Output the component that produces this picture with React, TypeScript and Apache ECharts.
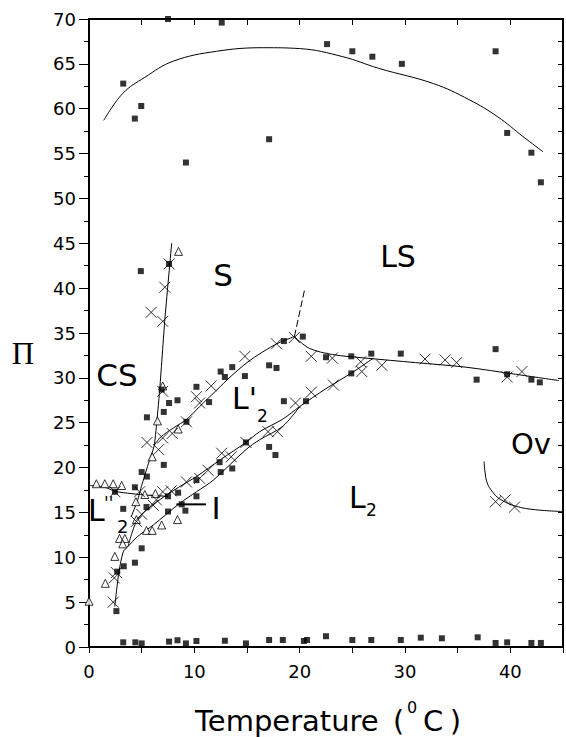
import React, { useEffect, useRef } from 'react';
import * as echarts from 'echarts';

// ---------- data (temperature °C, surface pressure Π) ----------
const xTickLabels = ['0', '10', '20', '30', '40'];

const squarePoints: number[][] = [
  [3.25, 62.8], [4.35, 58.9], [4.96, 60.3], [7.5, 70.0], [9.2, 54.0], [12.6, 69.6], [17.1, 56.6],
  [22.6, 67.2], [25.0, 66.4], [26.9, 65.8], [29.7, 65.0], [38.6, 66.4], [39.7, 57.3], [42.0, 55.1], [42.9, 51.8],
  [4.92, 41.9], [7.6, 42.7], [6.9, 28.7], [7.6, 27.2], [8.4, 27.5], [5.5, 25.6], [7.1, 26.2], [7.1, 20.3],
  [5.0, 19.5], [5.5, 19.0], [9.25, 25.1], [10.2, 29.0], [11.4, 27.3], [12.5, 30.7], [12.9, 30.1], [13.6, 31.2],
  [14.8, 30.2], [17.1, 31.4], [17.8, 31.1], [18.5, 34.1], [20.3, 34.6], [22.5, 32.3], [24.9, 32.4], [26.8, 32.7],
  [29.6, 32.7], [38.6, 33.2], [36.8, 29.8], [39.7, 30.4], [42.0, 29.8], [42.8, 29.5], [24.9, 30.5], [20.6, 27.4],
  [18.5, 27.4], [17.1, 22.3], [17.7, 21.4], [14.9, 22.8],
  [4.36, 17.8], [2.46, 17.3], [3.25, 15.4], [5.46, 15.6], [7.5, 15.1], [8.8, 15.9], [9.15, 15.2], [10.2, 16.8],
  [7.5, 16.8], [8.46, 17.2], [10.2, 18.6], [12.4, 20.6], [12.5, 19.5], [13.6, 19.9], [2.6, 4.0], [2.68, 8.4],
  [3.3, 9.0], [4.36, 9.4], [5.0, 11.0],
  [3.25, 0.52], [4.4, 0.52], [5.0, 0.4], [7.6, 0.6], [8.4, 0.75], [9.2, 0.4], [10.2, 0.67], [12.9, 0.7],
  [14.9, 0.4], [17.1, 0.78], [18.4, 0.78], [20.4, 0.67], [20.7, 0.78], [22.5, 1.2], [25.0, 0.78], [26.8, 0.78],
  [29.6, 0.78], [31.5, 1.04], [33.5, 0.97], [36.9, 1.08], [38.6, 0.45], [39.7, 0.52], [42.0, 0.45], [42.9, 0.45],
];

const crossPoints: number[][] = [
  [2.3, 5.0], [2.4, 7.7], [2.6, 8.3], [2.46, 17.3], [4.5, 14.0], [5.0, 14.8], [6.1, 15.8], [6.4, 16.4],
  [4.8, 17.3], [7.0, 17.3], [7.8, 17.4], [9.25, 18.4], [10.5, 18.8], [11.3, 19.7], [12.6, 21.6], [13.5, 21.2],
  [14.9, 22.8], [17.0, 24.0], [17.9, 24.0], [19.6, 27.2], [21.1, 28.4], [23.2, 29.2], [25.9, 30.7],
  [5.5, 22.8], [6.6, 22.0], [7.0, 23.3], [7.9, 23.8], [9.25, 25.1], [10.2, 27.9], [10.5, 27.2], [11.6, 29.1],
  [14.8, 32.4], [17.8, 33.8], [19.5, 34.5], [21.1, 32.4], [23.1, 32.2], [25.8, 31.8], [27.8, 31.4], [31.9, 32.1],
  [33.8, 32.0], [34.9, 31.7], [39.7, 30.1], [41.1, 30.7],
  [7.0, 28.5], [5.9, 37.3], [7.0, 36.3], [7.2, 40.1], [7.6, 42.7],
  [38.6, 16.2], [39.5, 16.4], [40.4, 15.6],
];

const trianglePoints: number[][] = [
  [0, 5.1], [0.7, 18.2], [1.5, 18.2], [2.3, 18.2], [3.1, 18.0], [1.55, 7.1], [2.45, 10.1], [2.9, 12.1],
  [3.4, 12.1], [3.2, 11.5], [4.45, 16.2], [4.5, 14.2], [5.46, 13.0], [6.0, 13.0], [6.9, 13.6], [8.4, 14.2],
  [5.3, 17.0], [6.3, 17.1], [6.0, 21.2], [6.5, 25.2], [7.0, 29.1], [8.46, 24.3], [8.5, 44.1],
];

const topCurve: number[][] = [
  [1.4, 58.7], [3.2, 61.7], [5.3, 63.5], [8.0, 65.3], [12.1, 66.4], [16.6, 66.8], [20.0, 66.7],
  [24.1, 65.8], [27.5, 64.5], [32.7, 62.8], [36.1, 61.0], [38.8, 59.1], [41.2, 56.9], [43.1, 55.2],
];
const steepLine: number[][] = [
  [4.0, 14.5], [4.6, 16.3], [5.0, 18.0], [5.6, 20.3], [6.2, 22.5], [6.7, 28.5], [7.2, 36.5], [7.85, 45.0],
];
const lPrimeUpper: number[][] = [
  [6.2, 22.5], [6.8, 23.4], [8.0, 24.4], [9.3, 25.4], [10.5, 26.8], [12.0, 28.5], [13.5, 30.2],
  [15.0, 31.7], [16.5, 32.9], [18.0, 33.9], [19.5, 34.6],
];
const lsBoundary: number[][] = [
  [19.5, 34.6], [20.9, 33.3], [23.1, 32.6], [26.3, 32.2], [31.0, 31.7], [35.7, 31.2], [40.5, 30.4], [44.6, 29.7],
];
const dashedBranch: number[][] = [[19.5, 34.6], [20.5, 40.0]];
const lPrimeLower: number[][] = [
  [3.7, 11.2], [4.5, 14.0], [5.5, 15.3], [6.7, 16.4], [8.5, 17.8], [10.2, 19.0], [12.5, 20.9], [14.9, 22.8],
  [16.2, 24.0], [18.4, 25.4], [20.0, 26.8], [22.5, 28.8], [25.0, 30.6], [27.0, 32.2],
];
const iLower: number[][] = [
  [2.45, 4.5], [2.8, 8.0], [3.25, 10.6], [3.7, 11.2], [4.6, 12.3], [6.1, 13.6], [8.6, 16.0], [10.2, 17.3],
  [11.8, 18.6], [14.9, 22.0], [16.2, 23.1], [18.4, 24.6], [20.0, 26.8],
];
const ldoubleBoundary: number[][] = [
  [0.1, 18.0], [1.5, 17.8], [2.5, 17.35], [4.0, 17.1], [5.8, 16.9], [7.5, 16.8],
];
const ovCurve: number[][] = [
  [37.5, 20.7], [37.6, 19.5], [37.8, 18.3], [38.3, 17.3], [39.0, 16.5], [40.5, 15.7], [42.4, 15.3], [45.0, 15.1],
];
const arrowI: number[][] = [[8.3, 15.9], [11.1, 15.9]];

const X_MIN = 0, X_MAX = 45, Y_MIN = 0, Y_MAX = 70;
const frameCorners: number[][] = [
  [X_MIN, Y_MIN], [X_MAX, Y_MIN], [X_MAX, Y_MAX], [X_MIN, Y_MAX], [X_MIN, Y_MIN],
];

const FONT = '"DejaVu Sans", Verdana, sans-serif';
const SERIF = '"Liberation Serif", "Times New Roman", serif';

export default function App() {
  const ref = useRef<HTMLDivElement>(null);

  useEffect(() => {
    if (!ref.current) return;
    const chart = echarts.init(ref.current, null, { renderer: 'svg' });

    const line = (name: string, data: number[][], extra: any = {}) => ({
      name,
      type: 'line',
      data,
      symbol: 'none',
      showSymbol: false,
      smooth: 0.3,
      silent: true,
      z: 2,
      lineStyle: { color: '#000', width: 1 },
      ...extra,
    });

    const txt = (text: string, x: number, y: number, size: number, align = 'center', family = FONT) => ({
      type: 'text',
      x,
      y,
      silent: true,
      z: 10,
      style: { text, fontSize: size, fontFamily: family, fill: '#000', align, verticalAlign: 'middle' },
    });

    const frameLine = () => ({ show: true, onZero: false, lineStyle: { color: '#000', width: 2 } });
    const tick = (inside: boolean, length: number) => ({
      show: true, inside, length, lineStyle: { color: '#000', width: 1 },
    });

    const option: any = {
      animation: false,
      backgroundColor: '#fff',
      grid: {
        show: true, left: 89, right: 2, top: 19, bottom: 90,
        borderColor: '#000', borderWidth: 2, backgroundColor: 'transparent',
      },
      xAxis: [
        {
          type: 'value', min: X_MIN, max: X_MAX, interval: 5, position: 'bottom',
          axisLine: frameLine(),
          axisTick: tick(false, 6),
          axisLabel: {
            color: '#000', fontSize: 18, fontFamily: FONT, margin: 15,
            formatter: (v: number) => (xTickLabels.indexOf(String(v)) >= 0 ? String(v) : ''),
          },
          splitLine: { show: false },
        },
        {
          type: 'value', min: X_MIN, max: X_MAX, interval: 5, position: 'top',
          axisLine: frameLine(),
          axisTick: tick(true, 6),
          axisLabel: { show: false },
          splitLine: { show: false },
        },
      ],
      yAxis: [
        {
          type: 'value', min: Y_MIN, max: Y_MAX, interval: 5, position: 'left',
          axisLine: frameLine(),
          axisTick: tick(false, 10),
          minorTick: { show: true, splitNumber: 2, length: 5, lineStyle: { color: '#000', width: 1 } },
          axisLabel: { color: '#000', fontSize: 18, fontFamily: FONT, margin: 13 },
          splitLine: { show: false },
          minorSplitLine: { show: false },
        },
        {
          type: 'value', min: Y_MIN, max: Y_MAX, interval: 2.5, position: 'right',
          axisLine: frameLine(),
          axisTick: tick(true, 5),
          axisLabel: { show: false },
          splitLine: { show: false },
        },
      ],
      series: [
        line('frame', frameCorners, { smooth: false, z: 2, lineStyle: { color: '#000', width: 2 } }),
        line('top', topCurve, { smooth: 0.4 }),
        line('steep', steepLine, { smooth: 0.15 }),
        line("L'2 upper", lPrimeUpper),
        line('LS boundary', lsBoundary),
        line('branch', dashedBranch, { smooth: false, lineStyle: { color: '#000', width: 1, type: [7, 3] } }),
        line("L'2 lower", lPrimeLower),
        line('I lower', iLower),
        line("L''2 boundary", ldoubleBoundary),
        line('Ov', ovCurve, { smooth: 0.4 }),
        line('arrow I', arrowI, { smooth: false, lineStyle: { color: '#000', width: 2 } }),
        {
          name: 'squares', type: 'scatter', data: squarePoints, symbol: 'rect', symbolSize: 6,
          itemStyle: { color: '#000' }, z: 4, silent: true,
        },
        {
          name: 'crosses', type: 'scatter', data: crossPoints, symbol: 'path://M0 0L10 10M10 0L0 10',
          symbolSize: 11, itemStyle: { color: 'none', borderColor: '#000', borderWidth: 1 }, z: 5, silent: true,
        },
        {
          name: 'triangles', type: 'scatter', data: trianglePoints, symbol: 'triangle', symbolSize: 8,
          itemStyle: { color: '#fff', borderColor: '#000', borderWidth: 1 }, z: 3, silent: true,
        },
      ],
      graphic: [
        txt('LS', 398, 256, 30),
        txt('S', 223, 275, 31),
        txt('CS', 117, 375, 31),
        txt("L'", 232, 398, 30, 'left'),
        txt('2', 257, 416, 17, 'left'),
        txt('L', 349, 497, 30, 'left'),
        txt('2', 366, 510, 17, 'left'),
        txt('Ov', 531, 444, 29),
        txt('I', 216, 508, 31),
        txt('L', 88, 510, 30, 'left'),
        txt("''", 104, 503, 17, 'left'),
        txt('2', 117, 526, 18, 'left'),
        txt('\u03A0', 23, 353, 31, 'center', SERIF),
        txt('Temperature', 195, 721, 29, 'left'),
        txt('(', 393, 721, 29, 'left'),
        txt('0', 407, 707, 16, 'left'),
        txt('C', 423, 721, 29, 'left'),
        txt(')', 461, 721, 29, 'right'),
      ],
    };

    chart.setOption(option);
    return () => chart.dispose();
  }, []);

  return (
    <div
      ref={ref}
      style={{ position: 'absolute', left: 0, top: 0, width: 566, height: 737, background: '#fff' }}
    />
  );
}
